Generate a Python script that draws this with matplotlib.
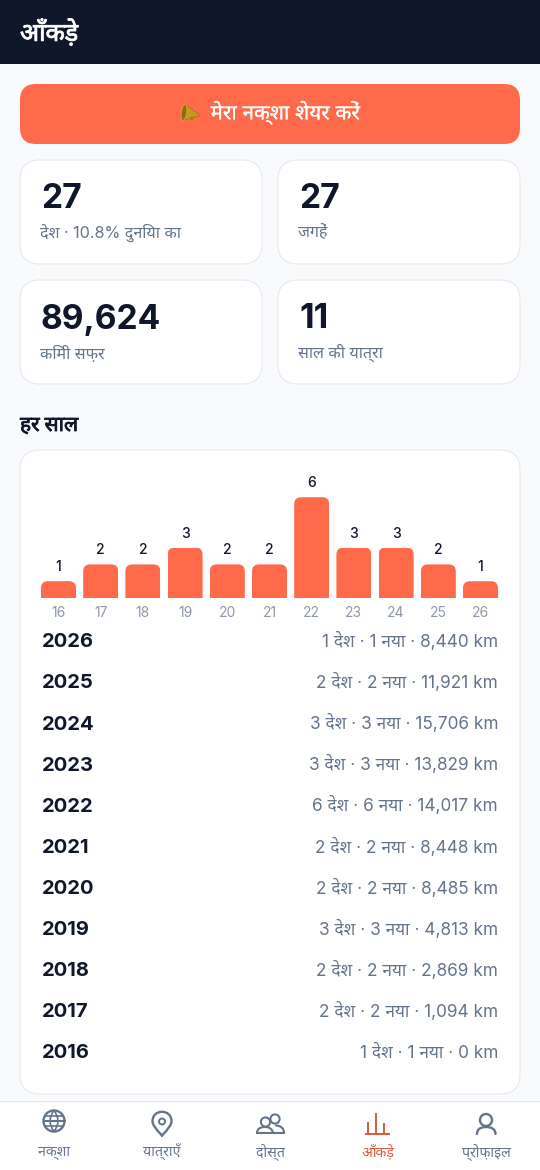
import matplotlib
matplotlib.use("Agg")
import matplotlib.pyplot as plt
import matplotlib.patheffects as pe
from matplotlib.patches import FancyBboxPatch, Rectangle, Circle, Polygon, PathPatch, Ellipse
from matplotlib.path import Path

FONTS = ["Inter", "Noto Sans", "DejaVu Sans"]
plt.rcParams["font.family"] = FONTS

years = [2026, 2025, 2024, 2023, 2022, 2021, 2020, 2019, 2018, 2017, 2016]
countries = [1, 2, 3, 3, 6, 2, 2, 3, 2, 2, 1]
new_countries = [1, 2, 3, 3, 6, 2, 2, 3, 2, 2, 1]
km = [8440, 11921, 15706, 13829, 14017, 8448, 8485, 4813, 2869, 1094, 0]

bar_labels = ["16", "17", "18", "19", "20", "21", "22", "23", "24", "25", "26"]
bar_values = countries[::-1]

stat_values = ["27", "27", "89,624", "11"]
stat_labels = ["देश · 10.8% दुनिया का", "जगहें", "किमी सफ़र", "साल की यात्रा"]
nav_labels = ["नक्शा", "यात्राएँ", "दोस्त", "आँकड़े", "प्रोफ़ाइल"]

DARK = "#0f172a"
ORANGE = "#ff6b4a"
BORDER = "#e5e9f0"
GRAY = "#64748b"
LIGHT = "#8f98a8"
ACTIVE = "#dc5a3c"

fig = plt.figure(figsize=(5.4, 11.7), dpi=100, facecolor="#f8fafc")
ui = fig.add_axes([0, 0, 1, 1])
ui.set_xlim(0, 540)
ui.set_ylim(1170, 0)
ui.axis("off")


def card(x0, y0, x1, y1, r, fc="white", ec=BORDER, lw=0.8):
    p = FancyBboxPatch((x0 + r, y0 + r), x1 - x0 - 2 * r, y1 - y0 - 2 * r,
                       boxstyle=f"round,pad={r},rounding_size={r}",
                       fc=fc, ec=ec, lw=lw)
    ui.add_patch(p)


def heavy(color, w=0.6):
    # the Devanagari fallback has no bold cut, so thicken it with a stroke
    return [pe.withStroke(linewidth=w, foreground=color)]


# header
ui.add_patch(Rectangle((0, 0), 540, 64, fc=DARK, ec="none"))
ui.text(20, 32, "आँकड़े", color="white", fontsize=18, fontweight="bold", va="center",
        path_effects=heavy("white"))

# share button
card(20, 84, 520, 144, 16, fc=ORANGE, ec="none", lw=0)
ui.add_patch(Polygon([[185, 104.5], [200.5, 115.5], [184, 120]], fc="#c9971f", ec="#8f6a12", lw=0.4))
ui.add_patch(Ellipse((184, 112.5), 5.5, 16, angle=8, fc="#8f6a12", ec="#d9ab2e", lw=0.6))
ui.add_patch(Polygon([[190, 117], [194, 116.5], [193, 120.5], [190, 120.5]], fc="#a87c16", ec="none"))
ui.text(285.5, 112.5, "मेरा नक्शा शेयर करें", color="white", fontsize=14.9,
        ha="center", va="center", path_effects=heavy("white", 0.12))

# stat cards
boxes = [(20, 160, 262, 264), (278, 160, 520, 264), (20, 280, 262, 384), (278, 280, 520, 384)]
for box, val, lab in zip(boxes, stat_values, stat_labels):
    card(*box, 20)
    ui.text(box[0] + 21, box[1] + 39.5, val, color=DARK, fontsize=24.2, fontweight="bold", va="center")
    ui.text(box[0] + 20.5, box[1] + 73, lab, color=GRAY, fontsize=11.6, va="center")

ui.text(20, 425, "हर साल", color=DARK, fontsize=15, fontweight="bold", va="center",
        path_effects=heavy(DARK))

# per year card
card(20, 450, 520, 1094, 20)

# bars, placed so one category is 42.2px wide and one country is 16.8px tall
ax = fig.add_axes([37.4 / 540, (1170 - 598) / 1170, 464.2 / 540, 134.4 / 1170])
ax.patch.set_alpha(0)
xs = list(range(len(bar_values)))
bars = ax.bar(xs, bar_values, width=0.83, color=ORANGE)
ax.set_xlim(-0.5, 10.5)
ax.set_ylim(0, 8)
for rect, v in zip(bars, bar_values):
    # rounded top only: clip with a box that runs on below the baseline
    rx, ry = 0.166, 0.417
    clip = FancyBboxPatch((rect.get_x() + rx, -2), rect.get_width() - 2 * rx, v + 2 - ry,
                          boxstyle=f"round,pad={rx},rounding_size={rx}",
                          mutation_aspect=ry / rx, transform=ax.transData)
    rect.set_clip_path(clip)
    ax.annotate(str(v), (rect.get_x() + rect.get_width() / 2, v), xytext=(0, 7),
                textcoords="offset pixels", ha="center", va="bottom",
                fontsize=10, fontweight="medium", color=DARK)
ax.set_xticks(xs, bar_labels)
ax.tick_params(axis="x", length=0, pad=5.5, labelsize=10, labelcolor=LIGHT)
ax.set_yticks([])
for s in ax.spines.values():
    s.set_visible(False)

# per year rows
for i, (y, c, n, k) in enumerate(zip(years, countries, new_countries, km)):
    row = 641 + i * 41.1
    ui.text(42, row + 1.3, str(y), color=DARK, fontsize=14.5, fontweight="bold", va="center")
    ui.text(498, row + 0.5, f"{c} देश · {n} नया · {k:,} km", color=GRAY, fontsize=12.4,
            ha="right", va="center")

# bottom nav
ui.add_patch(Rectangle((0, 1100), 540, 70, fc="white", ec="none"))
ui.plot([0, 540], [1100.5, 1100.5], color=BORDER, lw=1)
nav_x = [53.6, 162, 270, 378, 486]
for x, lab in zip(nav_x, nav_labels):
    col = ACTIVE if lab == nav_labels[3] else GRAY
    ui.text(x, 1152.5, lab, color=col, fontsize=10.2, ha="center", va="center")

ic = dict(color=GRAY, lw=1.5, solid_capstyle="round", solid_joinstyle="round")


def curve(points, codes, color=GRAY, lw=1.5):
    ui.add_patch(PathPatch(Path(points, codes), fc="none", ec=color, lw=lw, capstyle="round"))


# globe
ui.add_patch(Circle((54, 1121), 10.5, fc="none", ec=GRAY, lw=1.7))
ui.plot([43.5, 64.5], [1121, 1121], **ic)
ui.plot([45, 63], [1116, 1116], color=GRAY, lw=1.2)
ui.plot([45, 63], [1126, 1126], color=GRAY, lw=1.2)
curve([(54, 1110.5), (46, 1121), (54, 1131.5)], [1, 3, 3], lw=1.2)
curve([(54, 1110.5), (62, 1121), (54, 1131.5)], [1, 3, 3], lw=1.2)
# pin
curve([(162, 1135.5), (152.5, 1126), (152.5, 1121.5), (152.5, 1115), (157, 1111.8), (162, 1111.8),
       (167, 1111.8), (171.5, 1115), (171.5, 1121.5), (171.5, 1126), (162, 1135.5)],
      [1, 3, 3, 4, 4, 4, 4, 4, 4, 3, 3], lw=1.7)
ui.add_patch(Circle((162, 1121.5), 3, fc="none", ec=GRAY, lw=1.4))
# friends
ui.add_patch(Circle((265.5, 1122), 4.6, fc="none", ec=GRAY, lw=1.5))
ui.add_patch(Circle((275, 1119), 4.6, fc="none", ec=GRAY, lw=1.5))
ui.plot([257, 284], [1133, 1133], **ic)
curve([(257, 1133), (257, 1127), (265, 1127)], [1, 3, 3])
curve([(265, 1127), (272, 1127), (273, 1133)], [1, 3, 3])
curve([(276, 1125.5), (284, 1126), (284, 1133)], [1, 3, 3])
# stats icon
ac = dict(color=ACTIVE, lw=1.4, solid_capstyle="butt")
ui.plot([365, 389.5], [1134, 1134], **ac)
for bx, by in zip([368, 376, 384], [1121.7, 1112.7, 1123]):
    ui.plot([bx, bx], [by, 1134], **ac)
# profile
ui.add_patch(Circle((486, 1120), 6, fc="none", ec=GRAY, lw=1.7))
curve([(477, 1134), (477, 1127), (486, 1127), (495.5, 1127), (495.5, 1134)], [1, 3, 3, 3, 3], lw=1.7)

fig.savefig("out.png", dpi=100, facecolor=fig.get_facecolor())
